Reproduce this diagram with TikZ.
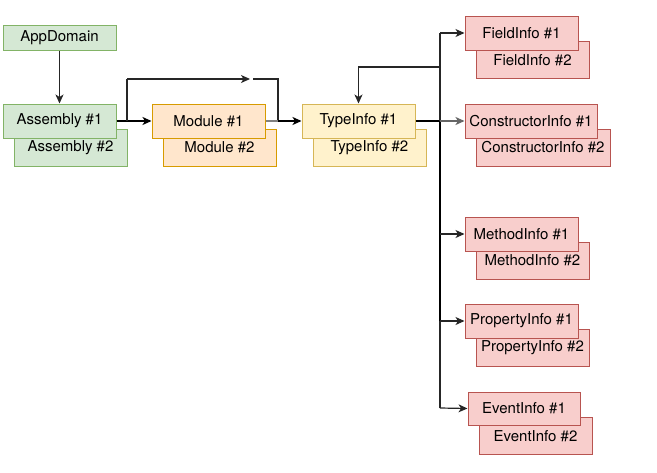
\documentclass[tikz,border=0pt]{standalone}
\usepackage{fontspec}
\setmainfont{TeX Gyre Heros}
\usetikzlibrary{arrows.meta}
\definecolor{gfill}{HTML}{D5E8D4}\definecolor{gline}{HTML}{82B366}
\definecolor{ofill}{HTML}{FFE6CC}\definecolor{oline}{HTML}{D79B00}
\definecolor{yfill}{HTML}{FFF2CC}\definecolor{yline}{HTML}{D6B656}
\definecolor{rfill}{HTML}{F8CECC}\definecolor{rline}{HTML}{B85450}
\begin{document}
\begin{tikzpicture}[x=1pt,y=-1pt,
  box/.style={draw,line width=1pt,inner sep=0pt,minimum width=113pt,minimum height=34pt,font=\fontsize{15}{17}\selectfont},
  gbox/.style={box,fill=gfill,draw=gline},
  obox/.style={box,fill=ofill,draw=oline},
  ybox/.style={box,fill=yfill,draw=yline},
  rbox/.style={box,fill=rfill,draw=rline},
  back/.style={minimum height=37pt},
  conn/.style={draw=black!85,line width=1.2pt},
  thickconn/.style={draw=black,line width=2.4pt},
  arr/.style={-{Stealth[length=9pt,width=8pt,inset=2.5pt]}}]
\useasboundingbox (0,0) rectangle (657,472);
% back boxes
\node[gbox,back] (as2) at (70.5,147.5) {Assembly \#2};
\node[obox,back] (mo2) at (219.5,147.5) {Module \#2};
\node[ybox,back] (ty2) at (369.5,147.5) {TypeInfo \#2};
\node[rbox,back] (fi2) at (532.5,60) {FieldInfo \#2};
\node[rbox,back,minimum width=134pt] (co2) at (543,147.5) {ConstructorInfo \#2};
\node[rbox,back] (me2) at (532.5,260.5) {MethodInfo \#2};
\node[rbox,back] (pr2) at (532.5,348) {PropertyInfo \#2};
\node[rbox,back] (ev2) at (535.5,436) {EventInfo \#2};
% front boxes
\node[gbox,minimum height=25pt] (app) at (59.5,37.5) {AppDomain};
\node[gbox] (as1) at (59.5,121) {Assembly \#1};
\node[obox] (mo1) at (208.5,121) {Module \#1};
\node[ybox] (ty1) at (358.5,121) {TypeInfo \#1};
\node[rbox] (fi1) at (521.5,33) {FieldInfo \#1};
\node[rbox,minimum width=132pt] (co1) at (531,121) {ConstructorInfo \#1};
\node[rbox] (me1) at (521.5,234) {MethodInfo \#1};
\node[rbox] (pr1) at (521.5,321) {PropertyInfo \#1};
\node[rbox,minimum width=112pt,minimum height=33pt] (ev1) at (524,408.5) {EventInfo \#1};
% coordinates
\coordinate (b1) at (127,121);
\coordinate (u1) at (127,79);
\coordinate (u2) at (250,79);
\coordinate (u3) at (253,79);
\coordinate (u4) at (278,79);
\coordinate (m1) at (278,121);
\coordinate (jt) at (440,33);
\coordinate (j1) at (440,121);
\coordinate (jm) at (440,234);
\coordinate (jp) at (440,321);
\coordinate (je) at (440,408);
\coordinate (lp) at (440,67);
\coordinate (lq) at (358.5,67);
% connectors
\draw[conn,arr] (app) -- (as1);
\draw[thickconn] (as1.east) -- (b1);
\draw[thickconn,arr] (b1) -- (mo1.west);
\draw[conn] (b1) -- (u1);
\draw[conn,arr] (u1) -- (u2);
\draw[conn] (u3) -- (u4) -- (m1);
\draw[conn,draw=black!50,line width=2pt] (mo1.east) -- (m1);
\draw[thickconn,arr] (m1) -- (ty1.west);
\draw[thickconn] (ty1.east) -- (j1);
\draw[conn] (jt) -- (j1);
\draw[thickconn] (j1) -- (jp);
\draw[conn] (jp) -- (je);
\draw[conn,arr] (jt) -- (fi1.west);
\draw[conn,draw=black!60,line width=1.6pt,arr] (j1) -- (co1.west);
\draw[conn,arr] (jm) -- (me1.west);
\draw[conn,arr] (jp) -- (pr1.west);
\draw[conn,arr] (je) -- (ev1.west);
\draw[conn,arr] (lp) -- (lq) -- (ty1.north);
\end{tikzpicture}
\end{document}
